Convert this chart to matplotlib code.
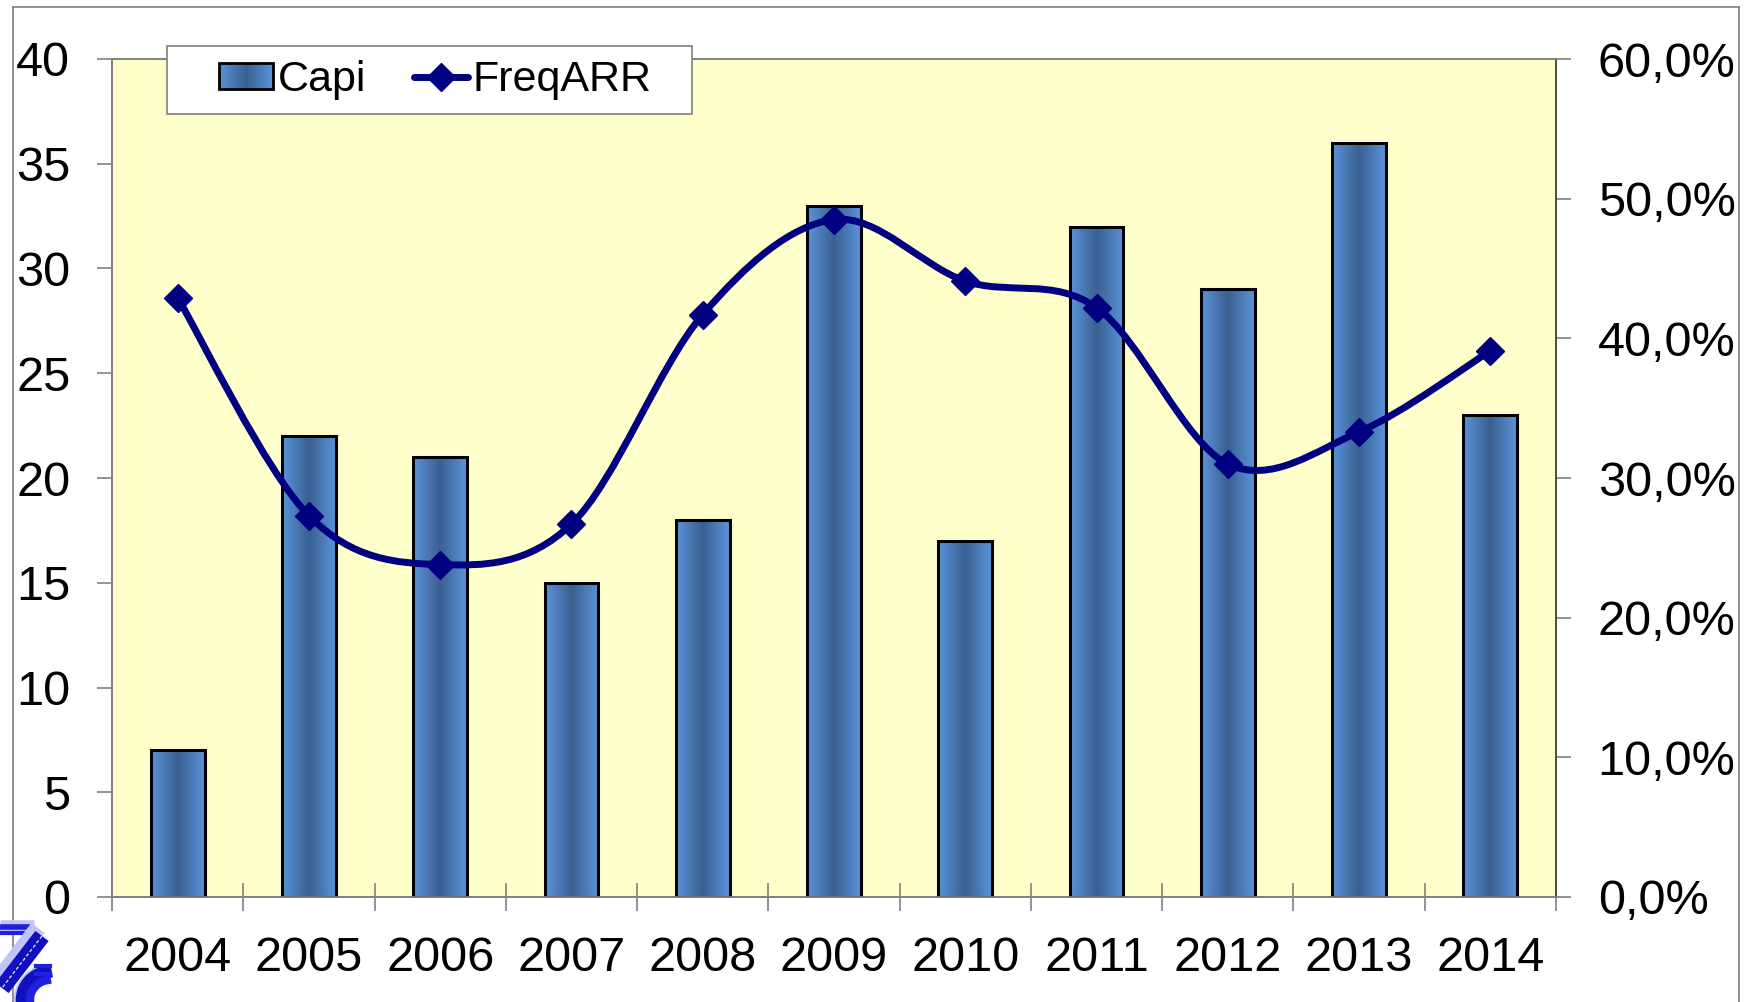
import numpy as np
import matplotlib
matplotlib.use("Agg")
import matplotlib.pyplot as plt
from matplotlib.path import Path
from matplotlib.patches import PathPatch, Rectangle
from matplotlib.lines import Line2D
from matplotlib.colors import LinearSegmentedColormap
from matplotlib.ticker import FuncFormatter, MultipleLocator
from matplotlib.legend_handler import HandlerBase

plt.rcParams['font.family'] = ['Liberation Sans', 'DejaVu Sans']

anos = ['2004', '2005', '2006', '2007', '2008', '2009', '2010', '2011', '2012', '2013', '2014']
capi = [7, 22, 21, 15, 18, 33, 17, 32, 29, 36, 23]
freq_arr = [42.9, 27.3, 23.8, 26.7, 41.7, 48.5, 44.1, 42.2, 31.0, 33.3, 39.1]

W, H = 1745, 1002
FS = 35
fig = plt.figure(figsize=(W / 100, H / 100), dpi=100)

# moldura da figura
for xs, ys in [((13, 13), (0, 995)), ((13, 1739), (995, 995)), ((1739, 1739), (995, 0))]:
    fig.add_artist(Line2D([x / W for x in xs], [y / H for y in ys], color='#808080', lw=1.2))

ax = fig.add_axes([112 / W, 1 - 897 / H, (1556 - 112) / W, (897 - 59) / H])
ax.set_facecolor('#FFFFCC')
ax2 = ax.twinx()

x = np.arange(len(anos))
largura = 0.41
gradiente = LinearSegmentedColormap.from_list('barra', ['#5A93DA', '#3A6090', '#5A93DA'])
img = np.linspace(0, 1, 64).reshape(1, -1)
for xi, v in zip(x, capi):
    ax.imshow(img, cmap=gradiente, extent=(xi - largura / 2, xi + largura / 2, 0, v),
              aspect='auto', zorder=2, interpolation='bicubic')
    ax.add_patch(Rectangle((xi - largura / 2, 0), largura, v, fill=False,
                           edgecolor='black', lw=2.2, zorder=3))

ax.set_xlim(-0.5, len(anos) - 0.5)
ax.set_ylim(0, 40)
ax2.set_ylim(0, 60)

# curva suavizada (estilo Excel, Bezier/Catmull-Rom)
pts = np.column_stack([x, freq_arr]).astype(float)
ext = np.vstack([pts[0], pts, pts[-1]])
verts = [tuple(pts[0])]
codes = [Path.MOVETO]
for i in range(len(pts) - 1):
    p0, p1, p2, p3 = ext[i], ext[i + 1], ext[i + 2], ext[i + 3]
    c1 = p1 + (p2 - p0) / 6
    c2 = p2 - (p3 - p1) / 6
    verts += [tuple(c1), tuple(c2), tuple(p2)]
    codes += [Path.CURVE4] * 3
ax2.add_patch(PathPatch(Path(verts, codes), fill=False, edgecolor='#000080',
                        lw=5, capstyle='round', joinstyle='round', zorder=4))
ax2.plot(x, freq_arr, ls='none', marker='D', ms=14, color='#000080', zorder=5)

# eixos
for a in (ax, ax2):
    for s in a.spines.values():
        s.set_color('#808080')
        s.set_linewidth(1.2)
ax2.spines['right'].set_color('#404040')

ax.yaxis.set_major_locator(MultipleLocator(5))
ax2.yaxis.set_major_locator(MultipleLocator(10))
ax2.yaxis.set_major_formatter(FuncFormatter(lambda v, p: f'{v:.1f}%'.replace('.', ',')))

ax.tick_params(axis='y', direction='out', length=11, width=1.2, color='#808080',
               labelsize=FS, pad=19)
ax2.tick_params(axis='y', direction='out', length=11, width=1.2, color='#808080',
                labelsize=FS, pad=19)
ax.set_xticks(x)
ax.set_xticklabels(anos)
ax.set_xticks(np.arange(-0.5, len(anos)), minor=True)
ax.tick_params(axis='x', which='major', length=0, labelsize=FS, pad=28)
ax.tick_params(axis='x', which='minor', direction='inout', length=20, width=1.2, color='#808080')

ax.set_zorder(ax2.get_zorder() - 1)
ax2.patch.set_visible(False)


class HandlerGradiente(HandlerBase):
    def create_artists(self, legend, orig_handle, xdescent, ydescent, width, height, fontsize, trans):
        arts = []
        n = 24
        for k in range(n):
            arts.append(Rectangle((-xdescent + k * width / n, -ydescent), width / n + 0.3, height,
                                  facecolor=gradiente((k + 0.5) / n), edgecolor='none',
                                  transform=trans))
        arts.append(Rectangle((-xdescent, -ydescent), width, height, fill=False,
                              edgecolor='black', lw=2, transform=trans))
        return arts


# legenda
fig.add_artist(Rectangle((167 / W, 1 - 114 / H), (692 - 167) / W, (114 - 46) / H,
                         transform=fig.transFigure, facecolor='white', edgecolor='#808080',
                         lw=1.2, zorder=10))
h_capi = Rectangle((0, 0), 1, 1)
h_freq = Line2D([], [], color='#000080', lw=5, marker='D', ms=14, solid_capstyle='round')
leg = fig.legend([h_capi, h_freq], ['Capi', 'FreqARR'], ncol=2, loc='center left',
                 bbox_to_anchor=(219 / W, 1 - 80 / H), fontsize=31, frameon=False,
                 handler_map={Rectangle: HandlerGradiente()},
                 handlelength=1.25, handleheight=0.55, handletextpad=0.12, columnspacing=1.1,
                 borderpad=0, borderaxespad=0)
leg.set_zorder(11)

# logotipo (aproximado)
def fl(xs, ys, **kw):
    fig.add_artist(Line2D([v / W for v in xs], [1 - v / H for v in ys], **kw))

fl((0, 34), (926, 926), color='#C0C4F8', lw=9, solid_capstyle='butt')
fl((0, 30), (927, 927), color='#2020E0', lw=4, solid_capstyle='butt')
fl((0, 30), (933, 933), color='#2020E0', lw=3, solid_capstyle='butt')
fl((38, 0), (928, 978), color='#C0C4F8', lw=12, solid_capstyle='butt')
fl((42, 2), (936, 988), color='#1010C0', lw=12, solid_capstyle='butt')
fl((42, 2), (936, 988), color='white', lw=0.8, ls=(0, (3, 2)))
th = np.linspace(np.pi * 0.55, np.pi * 1.05, 30)
for r, c, w in [(32, '#C0C4F8', 6), (28, '#1010C0', 9), (20, '#2020E0', 6)]:
    fl(50 + r * np.cos(th), 1000 - r * np.sin(th), color=c, lw=w)
fl((36, 50), (966, 966), color='#2020E0', lw=3)
fl((36, 50), (974, 974), color='#2020E0', lw=3)

fig.savefig('out.png', dpi=100)
